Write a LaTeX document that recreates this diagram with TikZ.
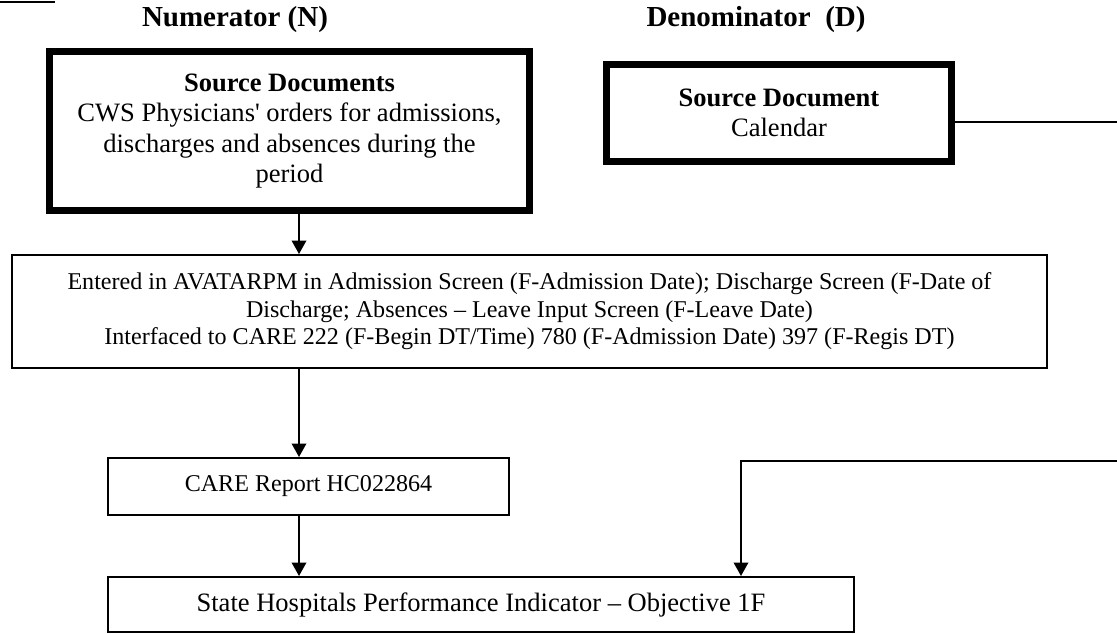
\documentclass[tikz,border=0pt]{standalone}
\usepackage{fontspec}
\setmainfont{Liberation Serif}
\usetikzlibrary{arrows.meta}
\tikzset{
thickBox/.style={draw, line width=0.14cm, inner sep=0pt, align=center,
    font=\fontsize{15.1}{17.2}\selectfont},
thinBox/.style={draw, line width=0.04cm, inner sep=0pt, align=center,
    font=\fontsize{13.7}{15.6}\selectfont},
headTxt/.style={font=\bfseries\fontsize{16.5}{19}\selectfont},
flowArrow/.style={line width=0.04cm, -{Triangle[width=0.29cm,length=0.27cm]}}
}

\begin{document}
\begin{tikzpicture}[x=0.02cm, y=-0.02cm]
    \useasboundingbox (0,0) rectangle (1117,633);
    \draw[line width=0.04cm] (0,2) -- (55,2);

    \node[headTxt] (h_1) at (235,20) {Numerator (N)};
    \node[headTxt] (h_2) at (756,20) {Denominator~~(D)};

    \node[thickBox, minimum width=9.6cm, minimum height=3.18cm] (b_1) at (289.5,131)
        {\textbf{Source Documents}\\CWS Physicians{\textquotesingle} orders for admissions,\\discharges and absences during the\\period};
    \node[thickBox, minimum width=6.9cm, minimum height=1.94cm] (b_2) at (779,113)
        {\textbf{Source Document}\\Calendar};
    \node[thinBox, minimum width=20.7cm, minimum height=2.26cm] (b_3) at (529.5,311.5)
        {Entered in AVATARPM in Admission Screen (F-Admission Date); Discharge Screen (F-Date of\\
         Discharge; Absences – Leave Input Screen (F-Leave Date)\\
         Interfaced to CARE 222 (F-Begin DT/Time) 780 (F-Admission Date) 397 (F-Regis DT)};
    \node[thinBox, minimum width=8.02cm, minimum height=1.14cm] (b_4) at (308.5,486.5)
        {CARE Report HC022864};
    \node[thinBox, minimum width=14.92cm, minimum height=1.1cm,
        font=\fontsize{15.1}{17.2}\selectfont] (b_5) at (481,604.5)
        {State Hospitals Performance Indicator – Objective 1F};

    \coordinate (c_1) at (299,0);
    \coordinate (c_2) at (1117,122);
    \coordinate (c_3) at (1117,461);
    \coordinate (c_4) at (741,461);

    \draw[flowArrow] (c_1 |- b_1.south) -- (c_1 |- b_3.north);
    \draw[flowArrow] (c_1 |- b_3.south) -- (c_1 |- b_4.north);
    \draw[flowArrow] (c_1 |- b_4.south) -- (c_1 |- b_5.north);
    \draw[line width=0.04cm] (c_2 -| b_2.east) -- (c_2);
    \draw[flowArrow] (c_3) -- (c_4) -- (c_4 |- b_5.north);
\end{tikzpicture}
\end{document}
